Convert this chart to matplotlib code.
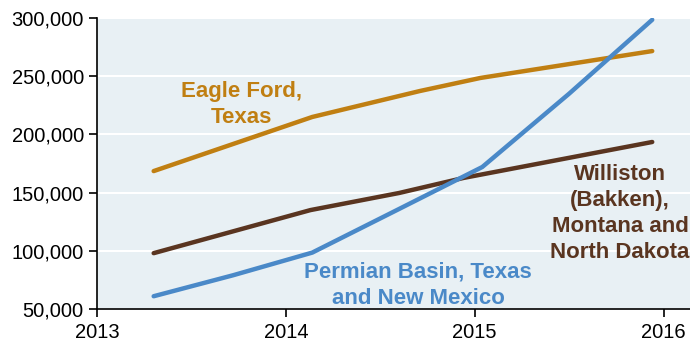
import matplotlib.pyplot as plt
from matplotlib.ticker import FuncFormatter

plt.rcParams['font.family'] = ['Liberation Sans', 'DejaVu Sans']

# key points (decimal year, value)
eagle_x = [2013.30, 2014.14, 2014.71, 2015.03, 2015.94]
eagle_y = [168500, 215000, 237300, 248500, 271600]

permian_x = [2013.30, 2013.72, 2014.14, 2014.60, 2015.04, 2015.50, 2015.94]
permian_y = [61000, 79000, 98500, 136000, 172000, 235000, 298500]

williston_x = [2013.30, 2014.13, 2014.60, 2014.94, 2015.94]
williston_y = [98000, 135000, 149700, 162600, 193500]

c_eagle = '#C07F12'
c_permian = '#4A89C8'
c_williston = '#5A3520'

fig = plt.figure(figsize=(6.9, 3.43), dpi=100)
ax = fig.add_axes([0.1406, 0.099, 0.8594, 0.8485])
ax.set_facecolor('#E8F0F4')

ax.plot(eagle_x, eagle_y, color=c_eagle, lw=3.2, solid_capstyle='round')
ax.plot(williston_x, williston_y, color=c_williston, lw=3.2, solid_capstyle='round')
ax.plot(permian_x, permian_y, color=c_permian, lw=3.2, solid_capstyle='round')

ax.set_xlim(2013, 2016.14)
ax.set_ylim(50000, 300000)
ax.set_xticks([2013, 2014, 2015, 2016])
ax.set_yticks(range(50000, 300001, 50000))
ax.yaxis.set_major_formatter(FuncFormatter(lambda v, p: f'{int(v):,}'))
ax.grid(axis='y', color='white', lw=1.5)
ax.set_axisbelow(True)
for s in ['top', 'right']:
    ax.spines[s].set_visible(False)
for s in ['left', 'bottom']:
    ax.spines[s].set_color('black')
    ax.spines[s].set_linewidth(1.2)
ax.tick_params(direction='out', length=6, width=1.2, labelsize=14.5, colors='black')
ax.tick_params(axis='x', pad=4)

kw = dict(fontsize=16, fontweight='bold', ha='center', va='center', linespacing=1.3)
ax.text(2013.765, 226000, 'Eagle Ford,\nTexas', color=c_eagle, **kw)
ax.text(2014.70, 70500, 'Permian Basin, Texas\nand New Mexico', color=c_permian, **kw)
ax.text(2015.77, 132000, 'Williston\n(Bakken),\nMontana and\nNorth Dakota',
        color=c_williston, **kw)

fig.savefig('out.png', dpi=100)
